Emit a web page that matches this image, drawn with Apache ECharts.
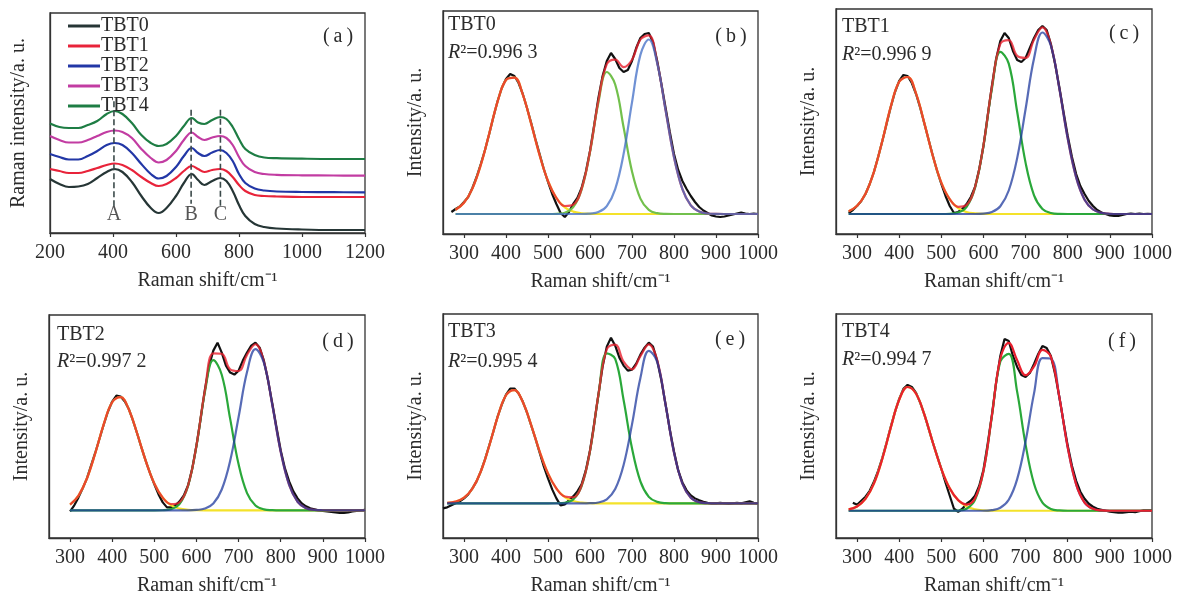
<!DOCTYPE html>
<html>
<head>
<meta charset="utf-8">
<script src="https://cdn.jsdelivr.net/npm/echarts@6/dist/echarts.min.js"></script>
<style>
  html, body { margin: 0; padding: 0; background: #ffffff; }
  #chart { width: 1180px; height: 599px; }
</style>
</head>
<body>
<div id="chart"></div>
<script>
// ---- (a) stacked Raman spectra of the five samples ----
const overviewX = [200,230,260,290,320,350,380,405,430,460,490,520,545,570,600,625,650,670,690,715,740,760,780,800,820,850,880,920,1000,1100,1200];
const tbt0 = [54,49,46,46.5,49,55,61,64,61,51,37,25,20,25,37,50,59,53,48,52,55,52,42,28,17,9,6,4.5,3.5,3,3];
const tbt1 = [64,62,60,60,62,65,68,69.5,68,63,56,50,47,49,55,62,67,64,61,63,64,62,56,48,42,38,37,36.5,36,36,36];
const tbt2 = [79,76,73.5,73.5,77,82,88,90,88,80,69,59,54.5,57,66,77,85,80,77,80.5,83,80,72,59,50,44.5,42.5,41.5,41,40.8,40.7];
const tbt3 = [97,93,90.5,90.5,93,97,101,102.5,101,95,84,75,70.5,73,82,93,100.5,96,93,95.5,97,95,88,76,67,61,59,58.2,57.7,57.5,57.3];
const tbt4 = [109.5,106,105,105,108,112,119,122,119,110,98,90,87,89,97,107,115,110.5,109,113,116,114,106,94,84,78,75.5,74.8,74.3,74,74];
const sampleNames = ['TBT0','TBT1','TBT2','TBT3','TBT4'];

// band positions A, B, C and the extent of their guide lines
const bandLetters = ['A','B','C'];
const bandPos = [403, 648, 741];
const bandTop = [131.7, 123.3, 123.3];
const bandBottom = [25, 29.3, 26.7];
const bandLabelY = 18.3;

// ---- (b)-(f) measured spectra and fitted bands ----
const rawX = [250,260,270,280,290,300,310,320,330,340,350,360,370,380,390,400,410,420,430,440,450,460,470,480,490,500,510,520,530,540,550,560,570,580,590,600,610,620,630,640,650,660,670,680,690,700,710,720,730,740,750,760,770,780,790,800,810,820,830,840,850,860,870,880,890,900,910,920,930,940,950,960,970,980,990,1000];
const fitX = [260,280,300,320,340,360,380,400,420,440,460,480,500,520,540,560,580,600,620,640,660,680,700,720,740,760,780,800,820,840,860,880,900,920,940,960,980,1000];

const rawTBT0 = [null,null,2,5,7.5,12,17,26,37,50,64,80,97,113,126,135,140,138,131,120,106,91,75,60,45,32,20,10,1,-3,2,10,16,26,42,63,89,116,138,153,161,155,146,142,144,153,166,176,180,181,172,153,130,106,82,60,44,33,25,18,12,7,3.5,1,-1.5,-2.5,-3,-2.5,-1.5,-0.5,0.5,1.5,0.5,0,0.3,0];
const bandA_TBT0 = [null,4.3,11.2,25.4,49,80.3,112.4,134,136.4,119.4,90.1,58.7,33,16,6.7,2.4,0.7,0.2,0,0,0,0,0,0,0,0,0,0,0,0,0,0,0,0,0,0,0,0];
const bandB_TBT0 = [null,0,0,0,0,0,0,0,0,0,0,0,0,0.2,1.3,6.8,24.4,61.9,111.5,142,129.5,86.7,42.6,15.4,4.1,0.8,0.1,0,0,0,0,0,0,0,0,0,0,0];
const bandC_TBT0 = [null,0,0,0,0,0,0,0,0,0,0,0,0,0,0,0,0,0.4,1.9,7.9,24.9,60.1,111.6,159.1,174.5,150.7,103.6,56.8,24.8,8.6,2.4,0.5,0.1,0,0,0,0,0];

const rawTBT1 = [null,null,null,1,4,8,13,20,30,42,57,73,90,107,122,133,139,138,131,120,106,90,74,58,43,30,18,8,1,2,5,10,17,27,45,68,98,128,155,173,181,176,163,154,152,156,166,176,184,188,184,170,150,127,102,78,57,40,28,20,13,8,4,1.5,0,-1.5,-2,-2,-1,0,0.5,0,0.5,0,0.2,0];
const bandA_TBT1 = [null,2.8,8.2,20.3,42.1,73.3,107.4,132.3,137,120.5,90.4,57.8,31.4,14.6,5.8,1.9,0.6,0.1,0,0,0,0,0,0,0,0,0,0,0,0,0,0,0,0,0,0,0,0];
const bandB_TBT1 = [null,0,0,0,0,0,0,0,0,0,0,0,0,0.2,1.4,7.2,26.4,68.3,125.2,162.2,150.4,102.2,51.1,18.7,5.1,1,0.1,0,0,0,0,0,0,0,0,0,0,0];
const bandC_TBT1 = [null,0,0,0,0,0,0,0,0,0,0,0,0,0,0,0,0,0.4,2,7.8,23.5,55.9,105,155.6,181.5,168.3,125.7,75.5,36.6,14.3,4.5,1.1,0.2,0,0,0,0,0];

const rawTBT2 = [null,null,null,null,null,-1,5,13,22,32,45,58,72,86,99,109,115,114,109,101,89,76,62,49,37,26,16,8,3,3,5,9,15,25,42,65,92,121,145,160,168,158,145,138,136,140,150,158,165,168,163,150,130,107,83,60,42,29,19,12,7,4,2,1,0,-0.5,-1,-1.5,-2,-2.5,-2.5,-2,-1,-0.5,0,0.5];
const bandA_TBT2 = [null,null,5.7,14.8,31.9,57.5,86.4,108.3,113.4,100.6,76,49,26.9,12.6,5,1.7,0.5,0.1,0,0,0,0,0,0,0,0,0,0,0,0,0,0,0,0,0,0,0,0];
const bandB_TBT2 = [null,null,0,0,0,0,0,0,0,0,0,0,0,0.1,1.2,6.4,24.4,64.6,118.4,150.4,135.9,91.6,46.1,17.3,4.9,1,0.2,0,0,0,0,0,0,0,0,0,0,0];
const bandC_TBT2 = [null,null,0,0,0,0,0,0,0,0,0,0,0,0,0,0,0,0.4,1.8,6.9,20.9,49.7,93.5,138.5,161.5,148,105.6,58.7,25.4,8.6,2.2,0.5,0.1,0,0,0,0,0];

const rawTBT3 = [-5,-4,-2,0,2,5,9,15,22,32,44,58,72,87,99,109,115,115,110,102,91,78,65,51,37,25,14,5,-2,-1,3,7,12,19,33,53,80,109,137,157,166,158,146,138,133,134,140,149,156,161,157,143,123,99,74,52,33,21,13,8,5,3,1.5,0.5,0,0,0.5,0,-0.5,0,0.5,0,1,2,0.5,0];
const bandA_TBT3 = [0.5,1.8,5.7,14.8,31.9,57.5,86.4,108.3,113.5,101.6,78.4,52.2,30,14.8,6.3,2.3,0.7,0.2,0,0,0,0,0,0,0,0,0,0,0,0,0,0,0,0,0,0,0,0];
const bandB_TBT3 = [0,0,0,0,0,0,0,0,0,0,0,0,0,0.1,0.6,3.8,17.2,52.3,107.9,150.3,144.8,103.5,55.2,22,6.5,1.5,0.2,0,0,0,0,0,0,0,0,0,0,0];
const bandC_TBT3 = [0,0,0,0,0,0,0,0,0,0,0,0,0,0,0,0,0,0.2,0.9,4.1,14.3,38.4,79.1,125.5,152.8,141.8,98.5,51,19.8,5.7,1.2,0.2,0,0,0,0,0,0];

const rawTBT4 = [null,null,null,null,8,6,10,14,20,29,40,53,68,84,99,112,122,126,124,118,108,96,82,68,55,42,28,15,2,-1,2,7,10,15,25,41,67,96,128,155,172,170,155,144,136,134,138,147,157,165,163,155,137,114,89,65,45,30,19,12,7,4,2,1,0,-1,-1.5,-2,-2,-1.5,-1,-1.5,-0.5,0.5,0.5,0.5];
const bandA_TBT4 = [null,1.3,4.3,11.8,27.1,52,83.2,111.1,123.9,117.1,95.9,68.1,42,22.4,10.4,4.2,1.5,0.4,0.1,0,0,0,0,0,0,0,0,0,0,0,0,0,0,0,0,0,0,0];
const bandB_TBT4 = [null,0,0,0,0,0,0,0,0,0,0,0,0,0,0.2,2,10.9,39.4,94.5,149.4,157.1,119,66.2,27,8.1,1.8,0.3,0,0,0,0,0,0,0,0,0,0,0];
const bandC_TBT4 = [null,0,0,0,0,0,0,0,0,0,0,0,0,0,0,0,0,0,0.6,3,11,31.6,69.5,117.5,152.9,152.3,113.7,63.4,26.4,8.2,1.9,0.3,0,0,0,0,0,0];

const rSquared = ['0.996 3','0.996 9','0.997 2','0.995 4','0.994 7'];
const panelLetters = ['(a)','(b)','(c)','(d)','(e)','(f)'];
const shiftTicks = [300,400,500,600,700,800,900,1000];

// ---- styling ----
const FONT = '"Liberation Serif", "Times New Roman", serif';
const INK = '#2b2b2b';
const overviewColors = ['#263636', '#e8233a', '#2237a6', '#c23ca2', '#1e7d44'];

const grids = [
  { left: 50,  top: 13,  width: 315, height: 220 },
  { left: 443, top: 11,  width: 315, height: 223 },
  { left: 836, top: 9,   width: 316, height: 225 },
  { left: 49,  top: 315, width: 316, height: 223 },
  { left: 443, top: 314, width: 315, height: 224 },
  { left: 836, top: 314, width: 316, height: 224 }
];
const yRanges = [[0, 220], [-20, 203], [-20, 205], [-27.7, 195.7], [-34.7, 189.7], [-27.3, 197]];

const fitPanels = [
  { raw: rawTBT0, a: bandA_TBT0, b: bandB_TBT0, c: bandC_TBT0, green: '#72c04c', blue: '#3f6cc6', fitTop: false },
  { raw: rawTBT1, a: bandA_TBT1, b: bandB_TBT1, c: bandC_TBT1, green: '#2aa83a', blue: '#1f3a9e', fitTop: false },
  { raw: rawTBT2, a: bandA_TBT2, b: bandB_TBT2, c: bandC_TBT2, green: '#2aa83a', blue: '#1f3a9e', fitTop: false },
  { raw: rawTBT3, a: bandA_TBT3, b: bandB_TBT3, c: bandC_TBT3, green: '#2aa83a', blue: '#1f3a9e', fitTop: false },
  { raw: rawTBT4, a: bandA_TBT4, b: bandB_TBT4, c: bandC_TBT4, green: '#2aa83a', blue: '#1f3a9e', fitTop: true }
];

const chart = echarts.init(document.getElementById('chart'), null, { renderer: 'canvas' });

const gridOpts = grids.map(g => Object.assign({ show: true, borderColor: '#333', borderWidth: 1.3, backgroundColor: 'transparent' }, g));

const xAxes = grids.map((g, k) => {
  const base = {
    type: 'value', gridIndex: k,
    name: 'Raman shift/cm\u207B\u00B9', nameLocation: 'middle', nameGap: 38,
    nameTextStyle: { fontFamily: FONT, fontSize: 20, color: INK },
    axisLine: { show: true, onZero: false, lineStyle: { color: '#333', width: 1.3 } },
    axisTick: { show: true, inside: false, length: 4, lineStyle: { color: '#333', width: 1.2 } },
    axisLabel: { fontFamily: FONT, fontSize: 20, color: INK, margin: 10, formatter: v => String(v) },
    splitLine: { show: false }
  };
  if (k === 0) {
    return Object.assign(base, { min: 200, max: 1200, interval: 200 });
  }
  base.min = 250; base.max = 1000;
  base.axisTick.customValues = shiftTicks;
  base.axisLabel.customValues = shiftTicks;
  return base;
});

const yAxes = grids.map((g, k) => ({
  type: 'value', gridIndex: k, min: yRanges[k][0], max: yRanges[k][1],
  name: k === 0 ? 'Raman intensity/a. u.' : 'Intensity/a. u.',
  nameLocation: 'middle', nameRotate: 90, nameGap: k === 0 ? 21 : 17,
  nameTextStyle: { fontFamily: FONT, fontSize: 20, color: INK },
  axisLine: { show: true, lineStyle: { color: '#333', width: 1.3 } },
  axisTick: { show: false }, axisLabel: { show: false }, splitLine: { show: false }
}));

const series = [];

// overview curves
[tbt0, tbt1, tbt2, tbt3, tbt4].forEach((arr, i) => {
  series.push({
    name: sampleNames[i], type: 'line', xAxisIndex: 0, yAxisIndex: 0,
    data: overviewX.map((x, j) => [x, arr[j]]),
    smooth: 0.4, symbol: 'none', color: overviewColors[i],
    lineStyle: { color: overviewColors[i], width: 2.2 }, z: 3
  });
});

// band guide lines and letters
bandPos.forEach((x, i) => {
  series.push({
    type: 'line', xAxisIndex: 0, yAxisIndex: 0, symbol: 'none', silent: true,
    data: [[x, bandTop[i]], [x, bandBottom[i]]],
    lineStyle: { color: '#3b4a4a', width: 1.6, type: [6, 3] }, z: 4
  });
});
series.push({
  type: 'scatter', xAxisIndex: 0, yAxisIndex: 0, symbolSize: 1, silent: true,
  itemStyle: { color: 'rgba(0,0,0,0)' },
  data: bandPos.map((x, i) => [x, bandLabelY, bandLetters[i]]),
  label: { show: true, position: 'inside', formatter: p => p.value[2], fontFamily: FONT, fontSize: 20, color: INK }
});

// fitted panels
fitPanels.forEach((p, n) => {
  const k = n + 1;
  const pts = (xs, ys) => xs.map((x, i) => (ys[i] === null ? null : [x, ys[i]])).filter(Boolean);
  const fitSum = p.a.map((v, i) => (v === null ? null : v + p.b[i] + p.c[i]));
  const common = { type: 'line', xAxisIndex: k, yAxisIndex: k, symbol: 'none', silent: true };
  series.push(Object.assign({}, common, { data: pts(rawX, p.raw), lineStyle: { color: '#111111', width: 2.2 }, z: 2 }));
  series.push(Object.assign({}, common, { data: pts(fitX, p.a), smooth: 0.4, lineStyle: { color: '#f4e22a', width: 2.2 }, z: 3 }));
  series.push(Object.assign({}, common, { data: pts(fitX, p.b), smooth: 0.4, lineStyle: { color: p.green, width: 2.2 }, z: 4 }));
  series.push(Object.assign({}, common, { data: pts(fitX, fitSum), smooth: 0.4,
    lineStyle: { color: '#e8202e', width: 2.2, opacity: p.fitTop ? 1 : 0.8 }, z: p.fitTop ? 7 : 5 }));
  series.push(Object.assign({}, common, { data: pts(fitX, p.c), smooth: 0.4, lineStyle: { color: p.blue, width: 2.2, opacity: 0.75 }, z: 6 }));
});

// panel captions
const graphic = [];
const letterPos = [[338, 37], [731, 37], [1124, 34], [338, 342], [730, 340], [1122, 342]];
panelLetters.forEach((t, i) => {
  graphic.push({ type: 'text', x: letterPos[i][0], y: letterPos[i][1], silent: true,
    style: { text: t.replace('(', '(\u2009').replace(')', '\u2009)'), fontFamily: FONT, fontSize: 20, fill: INK, align: 'center', verticalAlign: 'middle' } });
});
const namePos = [[448, 25], [842, 27], [57, 335], [448, 332], [842, 332]];
const rPos = [[448, 53], [842, 55], [57, 362], [448, 362], [842, 360]];
sampleNames.forEach((t, i) => {
  graphic.push({ type: 'text', x: namePos[i][0], y: namePos[i][1], silent: true,
    style: { text: t, fontFamily: FONT, fontSize: 20, fill: INK, align: 'left', verticalAlign: 'middle' } });
  graphic.push({ type: 'text', x: rPos[i][0], y: rPos[i][1], silent: true,
    style: { text: '{i|R}\u00B2=' + rSquared[i], fontFamily: FONT, fontSize: 20, fill: INK, align: 'left', verticalAlign: 'middle',
      rich: { i: { fontFamily: FONT, fontSize: 20, fontStyle: 'italic', fill: INK } } } });
});

chart.setOption({
  animation: false,
  backgroundColor: '#ffffff',
  grid: gridOpts,
  xAxis: xAxes,
  yAxis: yAxes,
  legend: {
    data: sampleNames, orient: 'vertical', left: 68, top: 16, padding: 0,
    itemWidth: 32, itemHeight: 3, itemGap: 0, icon: 'rect', selectedMode: false,
    textStyle: { fontFamily: FONT, fontSize: 20, lineHeight: 16, color: INK, padding: [0, 0, 0, -4] }
  },
  series: series,
  graphic: graphic
});
</script>
</body>
</html>
